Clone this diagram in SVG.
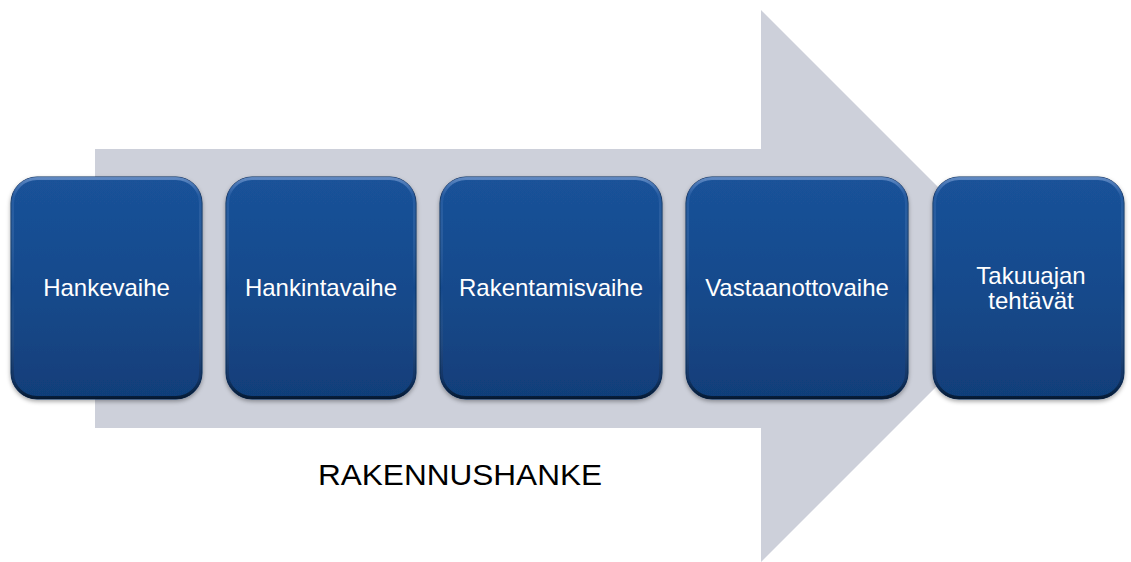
<svg xmlns="http://www.w3.org/2000/svg" width="1131" height="562" viewBox="0 0 1131 562">
  <defs>
    <linearGradient id="boxFill" x1="0" y1="0" x2="0" y2="1">
      <stop offset="0" stop-color="#1A5299"/>
      <stop offset="0.5" stop-color="#164A8C"/>
      <stop offset="1" stop-color="#113E79"/>
    </linearGradient>
    <linearGradient id="bevel" x1="0" y1="0" x2="0" y2="1">
      <stop offset="0" stop-color="#6E95CC" stop-opacity="0.8"/>
      <stop offset="0.08" stop-color="#4D7BBE" stop-opacity="0.25"/>
      <stop offset="0.5" stop-color="#FFFFFF" stop-opacity="0"/>
      <stop offset="0.92" stop-color="#000000" stop-opacity="0.2"/>
      <stop offset="1" stop-color="#000000" stop-opacity="0.55"/>
    </linearGradient>
    <filter id="shadow" x="-10%" y="-10%" width="120%" height="120%">
      <feDropShadow dx="0" dy="2" stdDeviation="2" flood-color="#000000" flood-opacity="0.35"/>
    </filter>
  </defs>
  <style>
    .box { fill: url(#boxFill); stroke: #0B2E5C; stroke-width: 1; filter: url(#shadow); }
    .bev { fill: none; stroke: url(#bevel); stroke-width: 3; }
    .lbl { font-family: "Liberation Sans", Arial, sans-serif; font-size: 24px; fill: #FFFFFF; text-anchor: middle; }
    .title { font-family: "Liberation Sans", Arial, sans-serif; font-size: 30px; fill: #000000; }
  </style>
  <rect x="0" y="0" width="1131" height="562" fill="#FFFFFF"/>
  <g id="arrow">
    <polygon points="95,149 761,149 761,10 1037,286 761,562 761,428 95,428" fill="#CDD0DA"/>
  </g>
  <g id="node1">
    <rect class="box" x="11" y="177" width="191" height="222" rx="26" ry="26"/>
    <rect class="bev" x="12.5" y="178.5" width="188" height="219" rx="24.5" ry="24.5"/>
    <text class="lbl" x="106.5" y="296">Hankevaihe</text>
  </g>
  <g id="node2">
    <rect class="box" x="226" y="177" width="190" height="222" rx="26" ry="26"/>
    <rect class="bev" x="227.5" y="178.5" width="187" height="219" rx="24.5" ry="24.5"/>
    <text class="lbl" x="321" y="296">Hankintavaihe</text>
  </g>
  <g id="node3">
    <rect class="box" x="440" y="177" width="222" height="222" rx="26" ry="26"/>
    <rect class="bev" x="441.5" y="178.5" width="219" height="219" rx="24.5" ry="24.5"/>
    <text class="lbl" x="551" y="296">Rakentamisvaihe</text>
  </g>
  <g id="node4">
    <rect class="box" x="686" y="177" width="222" height="222" rx="26" ry="26"/>
    <rect class="bev" x="687.5" y="178.5" width="219" height="219" rx="24.5" ry="24.5"/>
    <text class="lbl" x="797" y="296">Vastaanottovaihe</text>
  </g>
  <g id="node5">
    <rect class="box" x="933" y="177" width="191" height="222" rx="26" ry="26"/>
    <rect class="bev" x="934.5" y="178.5" width="188" height="219" rx="24.5" ry="24.5"/>
    <text class="lbl" x="1031" y="284">Takuuajan</text>
    <text class="lbl" x="1031" y="309">tehtävät</text>
  </g>
  <g id="label">
    <text class="title" x="318" y="485" textLength="284" lengthAdjust="spacingAndGlyphs">RAKENNUSHANKE</text>
  </g>
</svg>
